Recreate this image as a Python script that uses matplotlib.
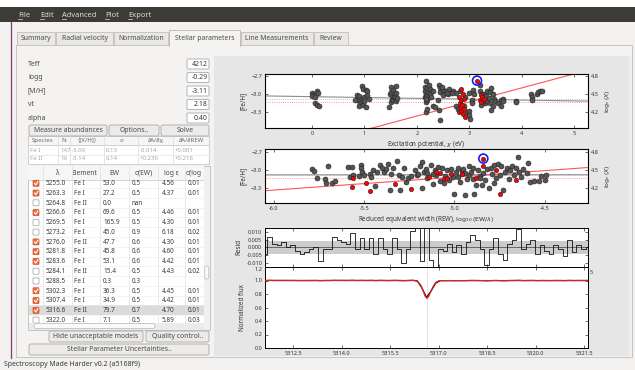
import matplotlib

matplotlib.use("Agg")
import matplotlib.pyplot as plt
import numpy as np
from matplotlib.patches import FancyBboxPatch, Rectangle

W, H = 635, 370
plt.rcParams["font.family"] = ["Noto Sans", "DejaVu Sans"]

# ---- GUI contents -------------------------------------------------------
menu_items = ["File", "Edit", "Advanced", "Plot", "Export"]
tab_names = ["Summary", "Radial velocity", "Normalization", "Stellar parameters",
             "Line Measurements", "Review"]
param_names = ["Teff", "logg", "[M/H]", "vt", "alpha"]
param_values = ["4212", "-0.29", "-3.11", "2.18", "0.40"]

species_header = ["Species", "N", "⟨[X/H]⟩", "σ", "∂A/∂χ", "∂A/∂REW"]
species_rows = [
    ["Fe I", "147", "-3.09", "0.13", "-0.014", "+0.001"],
    ["Fe II", "19", "-3.14", "0.14", "+0.236", "+0.216"],
]

line_header = ["λ", "Element", "EW", "σ(EW)", "log ε", "σ(log"]
line_rows = [
    ["5255.0", "Fe I", "53.0", "0.5", "4.56", "0.01"],
    ["5263.3", "Fe I", "27.2", "0.5", "4.37", "0.01"],
    ["5264.8", "Fe II", "0.0", "nan", "", ""],
    ["5266.6", "Fe I", "69.6", "0.5", "4.46", "0.01"],
    ["5269.5", "Fe I", "165.9", "0.5", "4.30", "0.01"],
    ["5273.2", "Fe I", "45.0", "0.9", "6.18", "0.02"],
    ["5276.0", "Fe II", "47.7", "0.6", "4.30", "0.01"],
    ["5281.8", "Fe I", "45.8", "0.6", "4.60", "0.01"],
    ["5283.6", "Fe I", "53.1", "0.6", "4.42", "0.01"],
    ["5284.1", "Fe II", "15.4", "0.5", "4.43", "0.02"],
    ["5288.5", "Fe I", "0.3", "0.3", "", ""],
    ["5302.3", "Fe I", "36.3", "0.5", "4.45", "0.01"],
    ["5307.4", "Fe I", "34.9", "0.5", "4.42", "0.01"],
    ["5316.6", "Fe II", "79.7", "0.7", "4.70", "0.01"],
    ["5322.0", "Fe I", "7.1", "0.5", "5.89", "0.03"],
]
line_checked = [1, 1, 0, 1, 0, 0, 1, 1, 1, 0, 0, 1, 1, 1, 0]
selected_row = 13

# ---- plot data ----------------------------------------------------------
# excitation potential (eV) vs [Fe/H], Fe I
ep_fe1 = [0.00, 0.02, 0.00, 0.05, 0.10, 0.12, 0.06, 0.10, 0.13,
          0.85, 0.88, 0.90, 0.92, 0.90, 0.95, 0.95, 0.98, 0.98, 1.00, 1.00, 1.02, 1.03, 1.05, 1.05, 1.08, 0.82,
          1.47, 1.48, 1.50, 1.50, 1.50, 1.52, 1.55, 1.55, 1.57, 1.58, 1.60, 1.60, 1.60, 1.62,
          2.15, 2.15, 2.15, 2.17, 2.17, 2.18, 2.18, 2.20, 2.20, 2.20, 2.20, 2.22, 2.25, 2.25, 2.28, 2.30, 2.30,
          2.35, 2.18, 2.23,
          2.40, 2.42, 2.43, 2.45, 2.45, 2.45, 2.50, 2.50, 2.55, 2.60, 2.62, 2.70, 2.75, 2.48, 2.58, 2.68,
          2.75, 2.78, 2.82, 2.90, 2.95, 2.92, 3.00, 3.00, 3.00, 3.02, 3.05, 3.05, 3.08, 3.10,
          3.20, 3.20, 3.25, 3.28, 3.30, 3.30, 3.30, 3.33, 3.35, 3.35, 3.38, 3.40, 3.40, 3.42, 3.45, 3.45,
          3.48, 3.50, 3.42, 3.25, 3.22,
          3.55, 3.60, 3.60, 3.65, 3.65, 3.90, 3.90, 4.18, 4.20, 4.20, 4.30, 4.32, 4.35, 4.40]
ab_ep_fe1 = [-2.99, -3.02, -3.04, -3.05, -2.95, -2.99, -3.15, -3.19, -3.21,
             -3.02, -3.10, -3.03, -3.16, -3.20, -2.87, -3.09, -2.92, -3.18, -3.05, -3.12, -2.93, -3.22, -2.95,
             -3.02, -3.08, -3.10,
             -3.22, -3.00, -2.88, -2.97, -3.13, -3.08, -2.93, -3.10, -3.05, -3.04, -2.87, -2.98, -3.12, -3.07,
             -2.88, -2.95, -3.06, -3.13, -3.30, -2.78, -3.00, -2.90, -3.03, -3.10, -3.25, -2.97, -2.92, -3.00,
             -3.05, -2.95, -3.20, -3.22, -3.08, -2.85,
             -3.10, -3.27, -2.85, -2.90, -2.97, -3.43, -2.93, -3.02, -2.95, -3.00, -2.92, -2.95, -2.98, -2.88,
             -2.98, -2.99,
             -3.20, -3.25, -2.96, -3.20, -3.30, -3.05, -2.98, -3.28, -3.35, -3.42, -3.10, -3.15, -2.93, -3.00,
             -2.85, -2.95, -3.00, -3.12, -3.00, -3.10, -3.15, -3.04, -2.96, -3.12, -3.07, -2.97, -3.15, -2.90,
             -3.00, -3.20, -3.08, -3.12, -3.27, -3.13, -3.18,
             -3.15, -3.10, -3.20, -3.08, -3.12, -3.12, -3.14, -3.00, -3.05, -3.10, -3.00, -2.97, -2.95, -2.95]
# Fe II
ep_fe2 = [2.80, 2.80, 2.82, 2.83, 2.85, 2.85, 2.85, 2.87, 2.88, 2.88, 2.90, 2.90, 2.92,
          3.20, 3.22, 3.22, 3.25, 3.28]
ab_ep_fe2 = [-3.05, -3.30, -3.15, -3.22, -2.92, -3.10, -3.28, -3.18, -3.00, -3.33, -3.08, -3.25, -3.38,
             -3.10, -3.02, -3.14, -3.05, -3.08]
ep_selected, ab_ep_selected = 3.15, -2.78

# reduced equivalent width vs [Fe/H], Fe I
rew_fe1 = [-5.79, -5.78, -5.76, -5.72, -5.70, -5.71, -5.68, -5.66,
           -5.59, -5.57, -5.58, -5.56, -5.53, -5.52, -5.52, -5.51, -5.50,
           -5.47, -5.46, -5.44, -5.45, -5.43, -5.41, -5.40, -5.39, -5.38, -5.37, -5.36, -5.35, -5.34, -5.32,
           -5.31, -5.30, -5.29, -5.28, -5.27, -5.26, -5.24, -5.22, -5.21, -5.20, -5.19, -5.18, -5.18, -5.17,
           -5.16, -5.15, -5.13, -5.12, -5.11, -5.10, -5.09, -5.08, -5.07, -5.05, -5.04, -5.03, -5.02, -5.01,
           -5.00, -4.99, -4.98, -4.97, -4.96, -4.95, -4.94, -4.93, -4.92, -4.91, -4.90, -4.89, -4.88, -4.87,
           -4.86, -4.85, -4.84, -4.83, -4.82, -4.81, -4.80, -4.79, -4.78, -4.78, -4.77, -4.76, -4.75, -4.74,
           -4.73, -4.72, -4.71, -4.70, -4.69, -4.68, -4.67, -4.66, -4.65, -4.64, -4.63, -4.62, -4.60, -4.59,
           -4.58, -4.56, -4.53, -4.52, -4.50, -4.49,
           -5.06, -4.98, -4.94, -4.90, -5.12, -5.15, -4.92, -4.86]
ab_rew_fe1 = [-2.98, -3.01, -3.14, -3.15, -2.93, -3.21, -3.22, -3.19,
              -2.95, -2.95, -3.11, -3.09, -3.10, -2.92, -2.97, -3.03, -3.08,
              -3.06, -3.12, -3.27, -3.00, -3.04, -2.92, -2.97, -3.04, -2.99, -2.90, -3.33, -3.07, -2.96, -2.85,
              -3.08, -3.34, -3.12, -2.97, -3.20, -3.13, -3.10, -3.00, -3.09, -3.06, -2.93, -2.86, -3.30, -3.03,
              -2.99, -3.05, -2.92, -3.23, -3.00, -3.08, -2.95, -3.19, -2.97, -3.10, -3.00, -3.17, -2.98, -3.12,
              -3.40, -3.04, -2.96, -3.20, -3.02, -2.98, -3.41, -3.15, -3.08, -3.04, -2.96, -3.40, -3.25, -3.00,
              -3.10, -3.25, -3.05, -3.17, -2.98, -3.30, -2.96, -3.06, -2.92, -3.22, -3.13, -2.90, -3.08, -2.94,
              -3.33, -3.04, -2.96, -3.15, -3.00, -2.93, -3.08, -2.97, -2.78, -3.04, -3.12, -2.99, -3.05, -2.88,
              -3.20, -3.19, -3.19, -3.10, -3.17, -3.08,
              -3.22, -3.12, -3.05, -3.15, -3.06, -3.14, -2.93, -3.14]
# Fe II
rew_fe2 = [-5.56, -5.57, -5.49, -5.47, -5.33, -5.24, -5.14, -5.08, -5.06, -5.02, -4.96, -5.04,
           -4.88, -4.84, -4.77, -4.75, -4.66, -5.10]
ab_rew_fe2 = [-3.13, -3.28, -3.21, -3.35, -3.23, -3.32, -3.12, -3.05, -3.15, -3.07, -3.07, -3.13,
              -3.13, -2.94, -3.00, -3.40, -3.17, -3.04]
rew_selected, ab_rew_selected = -4.84, -2.81

# trend lines: (slope, value at pivot, pivot)
ep_fe1_trend = (-0.014, -3.09, 3.0)
ep_fe2_trend = (0.234, -3.137, 3.0)
rew_fe1_trend = (0.001, -3.08, -5.1)
rew_fe2_trend = (0.216, -3.14, -5.1)
mean_fe1, mean_fe2, model_mh = -3.09, -3.14, -3.11

# spectrum around the selected Fe II line
line_center = 5316.64
model_wave = [5311.63, 5316.25, 5316.35, 5316.45, 5316.52, 5316.58, 5316.64, 5316.70,
              5316.76, 5316.84, 5316.92, 5317.02, 5321.62]
model_flux = [1.0, 1.0, 0.985, 0.93, 0.85, 0.77, 0.735, 0.77, 0.84, 0.92, 0.975, 0.998, 1.0]
resid = [-0.0043, 0.0070, 0.0025, 0.0014, 0.0036, 0.0002, 0.0018, -0.0020, -0.0043, -0.0032,
         -0.0009, 0.0005, -0.0089, -0.0009, -0.0009, 0.0070, 0.0048, 0.0036, 0.0025, 0.0093,
         -0.0009, 0.0059, -0.0009, 0.0059, -0.0043, 0.0059, -0.0009, -0.0043, 0.0059, -0.0009,
         -0.0100, -0.0009, 0.0105, 0.0250, -0.0089, 0.0250, -0.0077, -0.0250, -0.0009, -0.0020,
         0.0025, -0.0032, 0.0014, -0.0043, 0.0036, 0.0082, 0.0048, -0.0009, -0.0110, -0.0009,
         0.0059, -0.0043, -0.0077, 0.0025, 0.0048, 0.0116, -0.0009, 0.0025, 0.0048, -0.0043,
         0.0014, -0.0020, -0.0043, 0.0014, -0.0009, -0.0055, 0.0048, -0.0032, 0.0014, -0.0009, 0.0002]
spec_range = (5311.63, 5321.62)

# ---- figure -------------------------------------------------------------
fig = plt.figure(figsize=(W / 100, H / 100), dpi=100)
gui = fig.add_axes([0, 0, 1, 1])
gui.set_xlim(0, W)
gui.set_ylim(H, 0)
gui.axis("off")

TXT = "#3c3c3c"


def rect(x0, y0, x1, y1, fc, ec="none", lw=0.7, z=1):
    gui.add_patch(Rectangle((x0, y0), x1 - x0, y1 - y0, facecolor=fc, edgecolor=ec, linewidth=lw, zorder=z))


def text(x, y, s, size=5.0, color=TXT, ha="left", weight="normal", z=6, clip=None):
    t = gui.text(x, y, s, fontsize=size, color=color, ha=ha, va="center", fontweight=weight, zorder=z)
    if clip is not None:
        t.set_clip_on(True)
        t.set_clip_path(Rectangle((clip[0], clip[1]), clip[2] - clip[0], clip[3] - clip[1],
                                  transform=gui.transData))
    return t


def button(x0, y0, x1, y1, label):
    gui.add_patch(FancyBboxPatch((x0 + 1, y0 + 1), x1 - x0 - 2, y1 - y0 - 2,
                                 boxstyle="round,pad=0,rounding_size=2",
                                 facecolor="#ecebea", edgecolor="#b2b1b0", linewidth=0.7, zorder=3))
    text((x0 + x1) / 2, (y0 + y1) / 2 + 0.3, label, size=4.9, ha="center", weight="bold", color="#4a4a4a")


# window background, title strip and menu bar
rect(0, 0, W, H, "#f2f1f0", z=0)
rect(0, 0, W, 7, "#ffffff", z=1)
rect(0, 7, W, 22, "#3c3b37", z=1)
menu_x = [18, 40, 62, 105, 128]
for name, x in zip(menu_items, menu_x):
    text(x, 15.2, name, size=5.4, color="#dfdbd2", weight="bold")
    gui.plot([x, x + 3.6], [19.2, 19.2], color="#dfdbd2", lw=0.5, zorder=6)

# purple window edge
gui.plot([11.3, 11.3], [22, 358], color="#7e3d7b", lw=0.9, zorder=2)

# tab page
rect(16, 45, 632, 357, "#f4f3f2", ec="#c6c5c4", z=1)
tab_x = [(17, 55), (56, 113), (114, 168), (169, 240), (241, 313), (314, 348)]
for i, (name, (x0, x1)) in enumerate(zip(tab_names, tab_x)):
    if i == 3:
        rect(x0, 30, x1, 45.6, "#f4f3f2", ec="#c0bfbe", z=2)
        rect(x0 + 0.5, 44, x1 - 0.5, 46.5, "#f4f3f2", z=3)
    else:
        rect(x0, 32, x1, 45, "#e9e8e7", ec="#c6c5c4", z=2)
    text((x0 + x1) / 2, 38.6, name, size=4.9, ha="center", weight="bold", color="#4c4c4c")

# stellar parameters
param_y = [64, 77.5, 91, 104.5, 118]
for name, val, y in zip(param_names, param_values, param_y):
    text(28, y, name, size=5.0, weight="bold", color="#4a4a4a")
    gui.add_patch(FancyBboxPatch((187, y - 5), 22, 10, boxstyle="round,pad=0,rounding_size=1.2",
                                 facecolor="#ffffff", edgecolor="#b5b4b3", linewidth=0.7, zorder=3))
    text(207.5, y + 0.3, val, size=5.0, ha="right", weight="bold", color="#3a3a3a")

button(28, 124, 108, 137, "Measure abundances")
button(108, 124, 160, 137, "Options..")
button(160, 124, 210, 137, "Solve")

# species summary table
rect(28, 136, 209, 164, "#ffffff", ec="#cfcfcf", z=2)
rect(28, 136, 209, 145, "#f6f6f6", ec="#cfcfcf", z=2)
sp_cols = [28, 58, 70, 104, 138, 173, 209]
for x in sp_cols[1:-1]:
    gui.plot([x, x], [136, 164], color="#dadada", lw=0.5, zorder=3)
gui.plot([28, 209], [154.5, 154.5], color="#e2e2e2", lw=0.5, zorder=3)
for j, h in enumerate(species_header):
    text((sp_cols[j] + sp_cols[j + 1]) / 2, 140.6, h, size=4.4, ha="center", color="#6a6a6a")
for i, row in enumerate(species_rows):
    for j, v in enumerate(row):
        text(sp_cols[j] + 2, 150 + i * 9, v, size=4.4, color="#a8a8a8")

# line table
rect(28, 166, 210, 330, "#ffffff", ec="#c4c4c4", z=2)
rect(28, 166, 204, 180, "#f6f6f6", z=2)
gui.plot([28, 204], [180, 180], color="#cfcfcf", lw=0.6, zorder=3)
ln_cols = [28, 43, 72, 100, 129, 158, 185, 204]
for x in ln_cols[1:-1]:
    gui.plot([x, x], [166, 322], color="#e0e0e0", lw=0.5, zorder=3)
header_x = [57.5, 84.5, 114.5, 143.5, 171.5, 194]
for j, (h, x) in enumerate(zip(line_header, header_x)):
    text(x, 173.3, h, size=4.8, ha="center", weight="bold", color="#4a4a4a",
         clip=(ln_cols[j + 1] + 1, 166, ln_cols[j + 2] - 1, 180))
row_h = 9.77
cell_x = [46, 74.5, 103, 131.5, 162, 187.5]
for i, (row, chk) in enumerate(zip(line_rows, line_checked)):
    yc = 183.3 + i * row_h
    if yc > 322:
        break
    if i == selected_row:
        rect(28.5, yc - row_h / 2, 204, yc + row_h / 2, "#dcdbda", z=2)
    gui.plot([28, 204], [yc + row_h / 2, yc + row_h / 2], color="#ececec", lw=0.4, zorder=3)
    if chk:
        gui.add_patch(FancyBboxPatch((33, yc - 3), 6, 6, boxstyle="round,pad=0,rounding_size=0.8",
                                     facecolor="#ee6b3b", edgecolor="#c8502a", linewidth=0.5, zorder=4))
        gui.plot([34.4, 35.8, 38.0], [yc, yc + 1.6, yc - 1.8], color="white", lw=0.8, zorder=5)
    else:
        gui.add_patch(FancyBboxPatch((33, yc - 3), 6, 6, boxstyle="round,pad=0,rounding_size=0.8",
                                     facecolor="#ffffff", edgecolor="#a0a0a0", linewidth=0.5, zorder=4))
    for j, v in enumerate(row):
        text(cell_x[j], yc + 0.3, v, size=4.6, color="#3a3a3a",
             clip=(ln_cols[j + 1], 180, ln_cols[j + 2], 322))

# scrollbars
rect(28.5, 322.5, 204, 329.5, "#ebebeb", z=4)
gui.add_patch(FancyBboxPatch((34, 323.5), 121, 5, boxstyle="round,pad=0,rounding_size=2.3",
                             facecolor="#fafafa", edgecolor="#b8b8b8", linewidth=0.5, zorder=5))
rect(204, 166.5, 209.5, 329.5, "#f0f0f0", z=4)
gui.add_patch(FancyBboxPatch((204.8, 266), 4, 13, boxstyle="round,pad=0,rounding_size=1.8",
                             facecolor="#fafafa", edgecolor="#b8b8b8", linewidth=0.5, zorder=5))

button(48, 330, 144, 343, "Hide unacceptable models")
button(145, 330, 210, 343, "Quality control..")
button(28, 343, 210, 356, "Stellar Parameter Uncertainties..")

# status bar
text(4, 364.5, "Spectroscopy Made Harder v0.2 (a5168f9)", size=5.0, color="#3a3a3a")

# plotting canvas
rect(214, 56, 628, 356, "#e6e6e6", z=2)
rect(628, 56, 631, 356, "#ebebeb", z=2)


# ---- data axes ----------------------------------------------------------
def axes_px(x0, y0, x1, y1):
    return fig.add_axes([x0 / W, 1 - y1 / H, (x1 - x0) / W, (y1 - y0) / H])


def style(ax, right=True):
    ax.set_facecolor("white")
    ax.tick_params(direction="in", length=2.5, width=0.5, labelsize=4, colors="#333333",
                   top=True, right=right, pad=2)
    for sp in ax.spines.values():
        sp.set_linewidth(0.7)


def trend(ax, params, xlim, **kw):
    slope, value, pivot = params
    xs = np.array(xlim)
    ax.plot(xs, value + slope * (xs - pivot), **kw)


def scatter_panel(ax, xf1, yf1, xf2, yf2, xsel, ysel, lims, t1, t2, ticks, fmt, xlabel):
    style(ax, right=False)
    ax.set_xlim(*lims[0])
    ax.set_ylim(*lims[1])
    trend(ax, t1, lims[0], color="#8c8c8c", lw=0.8, zorder=2)
    trend(ax, t2, lims[0], color="#ff5555", lw=0.8, zorder=2)
    ax.axhline(mean_fe1, color="#aaaaaa", lw=0.6, ls=":", zorder=2)
    ax.axhline(mean_fe2, color="#ff7777", lw=0.6, ls=":", zorder=2)
    ax.scatter(xf1, yf1, s=13, c="#555555", edgecolors="#222222", linewidths=0.4, zorder=3)
    ax.scatter(xf2, yf2, s=10, c="#ff0000", edgecolors="#222222", linewidths=0.4, zorder=4)
    ax.scatter([xsel], [ysel], s=42, facecolors="none", edgecolors="#1a1aff", linewidths=1.2, zorder=5)
    ax.scatter([xsel], [ysel], s=10, c="#ff0000", edgecolors="#222222", linewidths=0.4, zorder=6)
    ax.set_xticks(ticks)
    ax.xaxis.set_major_formatter(plt.FormatStrFormatter(fmt))
    ax.set_yticks([-3.3, -3.0, -2.7])
    ax.set_xlabel(xlabel, fontsize=4.5, color="#333333", labelpad=2)
    ax.set_ylabel("[Fe/H]", fontsize=4.5, color="#333333", labelpad=3)
    tw = ax.twinx()
    tw.set_ylim(lims[1][0] + 7.5, lims[1][1] + 7.5)
    tw.set_yticks([4.2, 4.5, 4.8])
    tw.tick_params(direction="in", length=2.5, width=0.5, labelsize=4, colors="#333333", pad=2)
    tw.set_ylabel(r"$\log_\epsilon(X)$", fontsize=4.5, color="#333333", labelpad=3)


ax1 = axes_px(265, 74, 588, 128)
scatter_panel(ax1, ep_fe1, ab_ep_fe1, ep_fe2, ab_ep_fe2, ep_selected, ab_ep_selected,
              ((-0.9, 5.27), (-3.57, -2.67)), ep_fe1_trend, ep_fe2_trend,
              [0, 1, 2, 3, 4, 5], "%d", r"Excitation potential, $\chi$ (eV)")

ax2 = axes_px(265, 149, 588, 203)
scatter_panel(ax2, rew_fe1, ab_rew_fe1, rew_fe2, ab_rew_fe2, rew_selected, ab_rew_selected,
              ((-6.05, -4.26), (-3.55, -2.65)), rew_fe1_trend, rew_fe2_trend,
              [-6.0, -5.5, -5.0, -4.5], "%.1f",
              r"Reduced equivalent width (REW), $\log_{10}({\rm EW}/\lambda)$")

wave_grid = np.linspace(spec_range[0], spec_range[1], len(resid))
resid_arr = np.array(resid)

ax3 = axes_px(265, 228, 588, 267)
style(ax3)
ax3.set_xlim(*spec_range)
ax3.set_ylim(-0.0125, 0.0125)
ax3.axhspan(-0.004, 0.004, color="#cccccc", lw=0, zorder=1)
ax3.axhline(0, color="#555555", lw=0.6, zorder=2)
ax3.axvline(line_center, color="#999999", lw=0.5, ls=":", zorder=2)
ax3.plot(wave_grid, resid_arr, drawstyle="steps-mid", color="#111111", lw=0.6, zorder=3)
ax3.set_yticks([-0.010, -0.005, 0.0, 0.005, 0.010])
ax3.yaxis.set_major_formatter(plt.FormatStrFormatter("%.3f"))
ax3.set_xticks([5312.5, 5314.0, 5315.5, 5317.0, 5318.5, 5320.0, 5321.5])
ax3.set_xticklabels([])
ax3.set_ylabel("Resid", fontsize=4.5, color="#333333", labelpad=3)

ax4 = axes_px(265, 267, 588, 348)
style(ax4)
ax4.set_xlim(*spec_range)
ax4.set_ylim(0, 1.2)
obs_flux = np.interp(wave_grid, model_wave, model_flux) + resid_arr * 0.3
ax4.axvline(line_center, color="#999999", lw=0.5, ls=":", zorder=2)
ax4.plot(wave_grid, obs_flux, color="#111111", lw=0.9, zorder=3)
ax4.plot(model_wave, model_flux, color="#e02020", lw=0.9, zorder=4)
ax4.set_yticks([0.0, 0.2, 0.4, 0.6, 0.8, 1.0, 1.2])
ax4.yaxis.set_major_formatter(plt.FormatStrFormatter("%.1f"))
ax4.get_yticklabels()[-1].set_va("top")
ax4.set_xticks([5312.5, 5314.0, 5315.5, 5317.0, 5318.5, 5320.0, 5321.5])
ax4.xaxis.set_major_formatter(plt.FormatStrFormatter("%.1f"))
ax4.set_ylabel("Normalized flux", fontsize=4.5, color="#333333", labelpad=6)
text(590, 272, "5", size=4, color="#333333", z=10)

fig.savefig("out.png", dpi=100)
